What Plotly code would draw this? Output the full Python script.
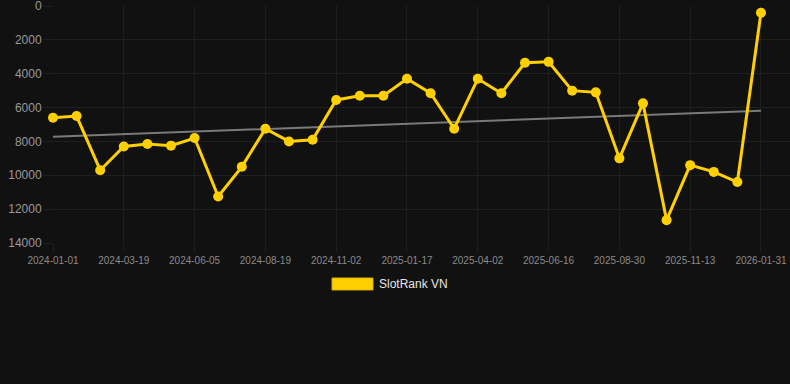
import numpy as np
import plotly.graph_objects as go

dates = [
    "2024-01-01", "2024-01-27", "2024-02-22", "2024-03-19", "2024-04-14", "2024-05-10",
    "2024-06-05", "2024-06-30", "2024-07-25", "2024-08-19", "2024-09-13", "2024-10-08",
    "2024-11-02", "2024-11-27", "2024-12-22", "2025-01-17", "2025-02-11", "2025-03-08",
    "2025-04-02", "2025-04-27", "2025-05-22", "2025-06-16", "2025-07-11", "2025-08-05",
    "2025-08-30", "2025-09-24", "2025-10-19", "2025-11-13", "2025-12-09", "2026-01-05",
    "2026-01-31",
]
ranks = [
    6600, 6500, 9700, 8300, 8150, 8250, 7800, 11250, 9500, 7250,
    8000, 7900, 5550, 5300, 5300, 4300, 5150, 7250, 4300, 5150,
    3350, 3300, 5000, 5100, 9000, 5750, 12650, 9400, 9800, 10400,
    400,
]
tick_dates = dates[::3]
y_ticks = [0, 2000, 4000, 6000, 8000, 10000, 12000, 14000]
series_name = "SlotRank VN"

BG = "#111111"
GRID = "#1f1f1f"
GOLD = "#FFD000"
FONT = "Liberation Sans, Arial, Helvetica, sans-serif"

idx = np.arange(len(ranks))
slope, intercept = np.polyfit(idx, ranks, 1)
trend_x = [dates[0], dates[-1]]
trend_y = [intercept, intercept + slope * idx[-1]]

fig = go.Figure()
fig.add_trace(go.Scatter(
    x=trend_x, y=trend_y, mode="lines",
    line=dict(color="#7a7a7a", width=2),
    showlegend=False, hoverinfo="skip",
))
fig.add_trace(go.Scatter(
    x=dates, y=ranks, mode="lines+markers", name=series_name,
    line=dict(color=GOLD, width=3),
    marker=dict(color=GOLD, size=10),
    cliponaxis=False,
    showlegend=False,
))

# legend drawn as a wide colour box + label (Chart.js style)
fig.add_shape(type="rect", xref="paper", yref="paper",
              x0=0.3786, x1=0.4342, y0=-0.1983, y1=-0.1477,
              fillcolor=GOLD, line=dict(color="#d9b000", width=1))
fig.add_annotation(text=series_name, xref="paper", yref="paper",
                   x=0.4396, y=-0.173, xanchor="left", yanchor="middle",
                   showarrow=False, font=dict(family=FONT, size=12, color="#e6e6e6"))

fig.update_layout(
    width=790, height=384,
    paper_bgcolor=BG, plot_bgcolor=BG,
    margin=dict(l=53, r=0, t=6, b=141),
    font=dict(family=FONT),
    showlegend=False,
)
fig.update_xaxes(
    type="category", categoryorder="array", categoryarray=dates,
    range=[0, len(dates) - 1 + 1.23],
    tickmode="array", tickvals=tick_dates, ticktext=tick_dates,
    tickangle=0,
    showgrid=True, gridcolor=GRID, gridwidth=1,
    ticks="outside", ticklen=8, tickcolor=GRID,
    zeroline=False, showline=False,
    ticklabeloverflow="allow",
    tickfont=dict(family=FONT, size=10, color="#8a8a8a"),
)
fig.update_yaxes(
    range=[14000, 0], tickmode="array", tickvals=y_ticks,
    ticktext=[str(v) for v in y_ticks],
    showgrid=True, gridcolor=GRID, gridwidth=1,
    ticks="outside", ticklen=8, tickcolor=GRID,
    zeroline=False, showline=False,
    ticklabeloverflow="allow",
    tickfont=dict(family=FONT, size=12, color="#999999"),
)

fig.write_html(
    "out.html",
    config={"displayModeBar": False},
    post_script="document.body.style.margin='0';document.body.style.background='#111111';",
)
